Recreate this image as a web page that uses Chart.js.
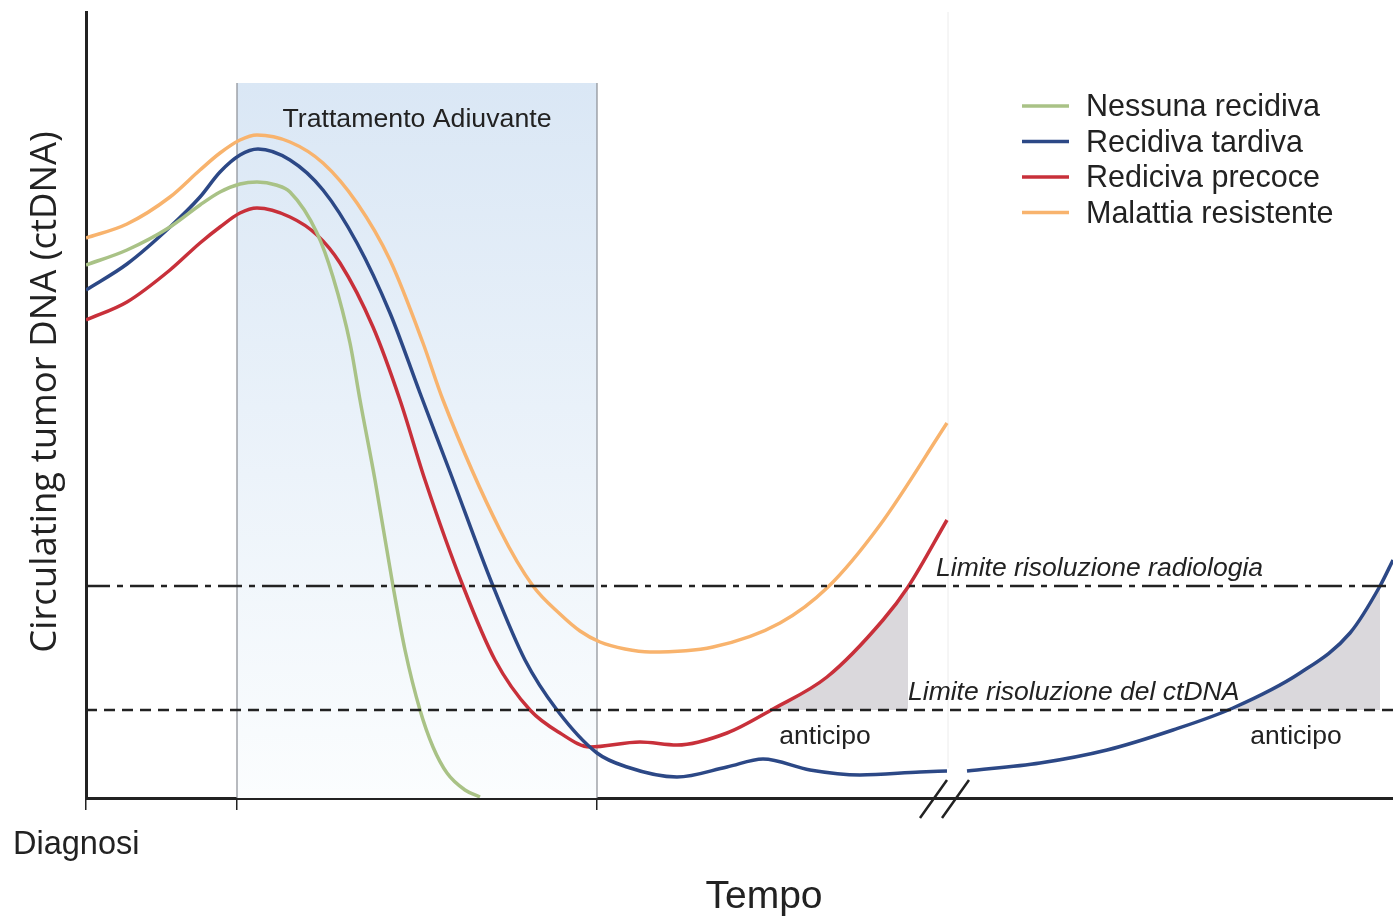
<!DOCTYPE html>
<html>
<head>
<meta charset="utf-8">
<script src="https://cdn.jsdelivr.net/npm/chart.js@4.4.1/dist/chart.umd.min.js"></script>
<style>
  html, body { margin: 0; padding: 0; background: #fff; }
  #wrap { width: 1393px; height: 918px; }
</style>
</head>
<body>
<div id="wrap"><canvas id="chart" width="1393" height="918"></canvas></div>
<script>
// tempo (unita arbitrarie) e livello ctDNA (unita arbitrarie)
const nessunaRecidiva = [[0,53.3],[4.1,54.8],[8.4,57.1],[11.4,59.3],[13.4,60.6],[15.4,61.4],[17.1,61.6],[19,61.3],[20.4,60.6],[23.1,56.5],[24.7,52.1],[26.4,45.5],[27.4,39.8],[28.9,31.8],[30.7,21.2],[31.9,14.8],[33.4,8.8],[34.7,5.1],[36.1,2.5],[37.9,0.8],[39.4,0.1]];
const recidivaTardiva = [[0,50.8],[4.1,53.4],[8.4,57.1],[11.4,60.1],[13.4,62.6],[15.4,64.3],[17.2,64.9],[20.4,63.8],[23.7,60.8],[27.1,55.5],[30.4,48.5],[33.4,40.5],[36.4,32.6],[40.7,21.2],[43.9,13.8],[47.1,8.8],[51.1,4.5],[54.1,3.1],[59.1,2.1],[64.1,3.1],[67.7,3.9],[72.4,2.8],[77.4,2.3],[83.4,2.6],[86.1,2.7],
  null,
  [88.1,2.7],[95.4,3.5],[102.1,4.8],[108.7,6.8],[114.7,9],[121.4,12.5],[126.4,16.5],[129.4,21.2],[130.7,23.8]];
const recidivaPrecoce = [[0,47.8],[4.1,49.6],[8.4,52.8],[11.4,55.5],[13.4,57.1],[15.4,58.5],[17.1,59],[20.4,58.1],[23.1,56.3],[25.4,53.5],[28.7,47.1],[31.4,39.8],[33.9,31.8],[37.7,21.2],[40.9,13.8],[44.4,8.8],[47.4,6.5],[50.4,5.1],[55.4,5.6],[59.1,5.3],[64.1,6.5],[68.7,8.9],[74.1,12.1],[79.7,17.8],[82.2,21.1],[86.1,27.8]];
const malattiaResistente = [[0,56],[4.1,57.4],[8.4,60.1],[11.4,62.8],[13.4,64.5],[15.4,65.8],[17.1,66.3],[20.4,65.6],[23.7,63.5],[27.1,59.5],[30.4,53.8],[33.7,45.5],[35.7,39.8],[41.4,26.8],[44.7,21.2],[47.4,18.4],[49.4,16.7],[51.4,15.6],[53.9,14.9],[56.4,14.6],[62.7,15.1],[69.4,17.5],[74.2,21.1],[79.4,27.3],[86.1,37.5]];

// aree "anticipo" tra limite ctDNA e limite radiologia
const anticipoPrecoce = [[68.4,8.8],[71.4,10.4],[74.1,12.1],[77.4,15.3],[79.7,17.8],[82.2,21.1]];
const anticipoTardiva = [[114.7,8.8],[118.4,10.6],[121.4,12.5],[124.4,14.8],[126.4,16.5],[129.4,21.2]];

const limiteRadiologia = 21.2;
const limiteCtDNA = 8.8;
const trattamento = [15.1, 51.1];   // inizio / fine
const trattamentoTop = 71.5;
const interruzione = 86.2;          // asse del tempo spezzato
const xTicks = [0, 15.1, 51.1];
const xMax = 130.7, yMax = 78.6;

const series = [
  { label: "Nessuna recidiva", data: nessunaRecidiva, color: "#a9c286" },
  { label: "Recidiva tardiva", data: recidivaTardiva, color: "#2c4886" },
  { label: "Rediciva precoce", data: recidivaPrecoce, color: "#c8303a" },
  { label: "Malattia resistente", data: malattiaResistente, color: "#f8b36d" },
];

const toPts = arr => arr.map(p => p ? { x: p[0], y: p[1] } : { x: null, y: null });

const datasets = [];
for (const s of series) {
  datasets.push({
    label: s.label, data: toPts(s.data), borderColor: s.color, borderWidth: 3.5,
    pointRadius: 0, cubicInterpolationMode: "monotone", spanGaps: false, order: 2, fill: false,
  });
}
for (const a of [anticipoPrecoce, anticipoTardiva]) {
  datasets.push({
    label: "_anticipo", data: toPts(a), borderWidth: 0, pointRadius: 0,
    backgroundColor: "#dad8dc", fill: { value: limiteCtDNA }, cubicInterpolationMode: "monotone", order: 4,
  });
}
datasets.push({
  label: "_radiologia", data: [{ x: 0, y: limiteRadiologia }, { x: xMax, y: limiteRadiologia }],
  borderColor: "#222", borderWidth: 2.5, borderDash: [24, 7, 6, 7], pointRadius: 0, order: 1,
});
datasets.push({
  label: "_ctdna", data: [{ x: 0, y: limiteCtDNA }, { x: xMax, y: limiteCtDNA }],
  borderColor: "#222", borderWidth: 2.5, borderDash: [11, 7], pointRadius: 0, order: 1,
});

const SANS = "'Liberation Sans', Arial, sans-serif";

const decor = {
  id: "decor",
  beforeDatasetsDraw(chart) {
    const { ctx, scales: { x, y }, chartArea } = chart;
    const l = x.getPixelForValue(trattamento[0]), r = x.getPixelForValue(trattamento[1]);
    const t = y.getPixelForValue(trattamentoTop), b = y.getPixelForValue(0);
    const g = ctx.createLinearGradient(0, t, 0, b);
    g.addColorStop(0, "#dae7f5");
    g.addColorStop(1, "#fbfdfe");
    ctx.save();
    ctx.fillStyle = g;
    ctx.fillRect(l, t, r - l, b - t);
    ctx.strokeStyle = "#8a8e94";
    ctx.lineWidth = 1.2;
    ctx.beginPath();
    ctx.moveTo(l, t); ctx.lineTo(l, b);
    ctx.moveTo(r, t); ctx.lineTo(r, b);
    ctx.stroke();
    // linea dell'interruzione
    const bx = x.getPixelForValue(interruzione);
    ctx.strokeStyle = "#ececec";
    ctx.lineWidth = 1;
    ctx.beginPath();
    ctx.moveTo(bx, chartArea.top); ctx.lineTo(bx, b - 30);
    ctx.stroke();
    ctx.fillStyle = "#222";
    ctx.font = "26.7px " + SANS;
    ctx.textAlign = "center";
    ctx.textBaseline = "middle";
    ctx.fillText("Trattamento Adiuvante", (l + r) / 2, t + 37);
    ctx.restore();
  },
  afterDraw(chart) {
    const { ctx, scales: { x, y } } = chart;
    ctx.save();
    ctx.fillStyle = "#222";
    ctx.textBaseline = "middle";
    // etichette limiti
    ctx.font = "italic 26.5px " + SANS;
    ctx.textAlign = "left";
    ctx.fillText("Limite risoluzione radiologia", x.getPixelForValue(85), y.getPixelForValue(limiteRadiologia) - 17);
    ctx.fillText("Limite risoluzione del ctDNA", x.getPixelForValue(82.2), y.getPixelForValue(limiteCtDNA) - 17);
    ctx.font = "26.5px " + SANS;
    ctx.textAlign = "center";
    ctx.fillText("anticipo", x.getPixelForValue(73.9), y.getPixelForValue(limiteCtDNA) + 27);
    ctx.fillText("anticipo", x.getPixelForValue(121), y.getPixelForValue(limiteCtDNA) + 27);

    // simbolo di interruzione //
    const bx = x.getPixelForValue(interruzione), by = y.getPixelForValue(0);
    ctx.strokeStyle = "#222";
    ctx.lineWidth = 2.5;
    ctx.beginPath();
    ctx.moveTo(bx - 28, by + 20); ctx.lineTo(bx - 1, by - 18);
    ctx.moveTo(bx - 6, by + 20); ctx.lineTo(bx + 21, by - 18);
    ctx.stroke();

    // legenda
    ctx.font = "30.5px " + SANS;
    ctx.textAlign = "left";
    series.forEach((s, i) => {
      const ly = 106 + i * 35.5;
      ctx.strokeStyle = s.color;
      ctx.lineWidth = 3.5;
      ctx.beginPath();
      ctx.moveTo(1022, ly); ctx.lineTo(1069, ly);
      ctx.stroke();
      ctx.fillStyle = "#222";
      ctx.fillText(s.label, 1086, ly + 2);
    });

    // testi degli assi
    ctx.font = "32.5px " + SANS;
    ctx.fillText("Diagnosi", 13, 845);
    ctx.font = "39px " + SANS;
    ctx.textAlign = "center";
    ctx.fillText("Tempo", 764, 897);
    ctx.translate(46, 392);
    ctx.rotate(-Math.PI / 2);
    ctx.font = "36.5px 'Open Sans', sans-serif";
    ctx.fillText("Circulating tumor DNA (ctDNA)", 0, 0);
    ctx.restore();
  }
};

new Chart(document.getElementById("chart"), {
  type: "line",
  data: { datasets },
  options: {
    responsive: false,
    animation: false,
    layout: { padding: { top: 12, right: 0, left: 0, bottom: 0 } },
    plugins: { legend: { display: false }, tooltip: { enabled: false } },
    scales: {
      x: {
        type: "linear", min: 0, max: xMax,
        afterBuildTicks: s => { s.ticks = xTicks.map(v => ({ value: v })); },
        afterFit: s => { s.height = 120; },
        ticks: { display: false },
        grid: { drawOnChartArea: false, drawTicks: true, tickLength: 12, color: "#222", lineWidth: 1.5 },
        border: { color: "#222", width: 3 },
      },
      y: {
        type: "linear", min: 0, max: yMax,
        afterFit: s => { s.width = 86; },
        ticks: { display: false },
        grid: { display: false },
        border: { color: "#222", width: 3 },
      }
    }
  },
  plugins: [decor]
});
</script>
</body>
</html>
